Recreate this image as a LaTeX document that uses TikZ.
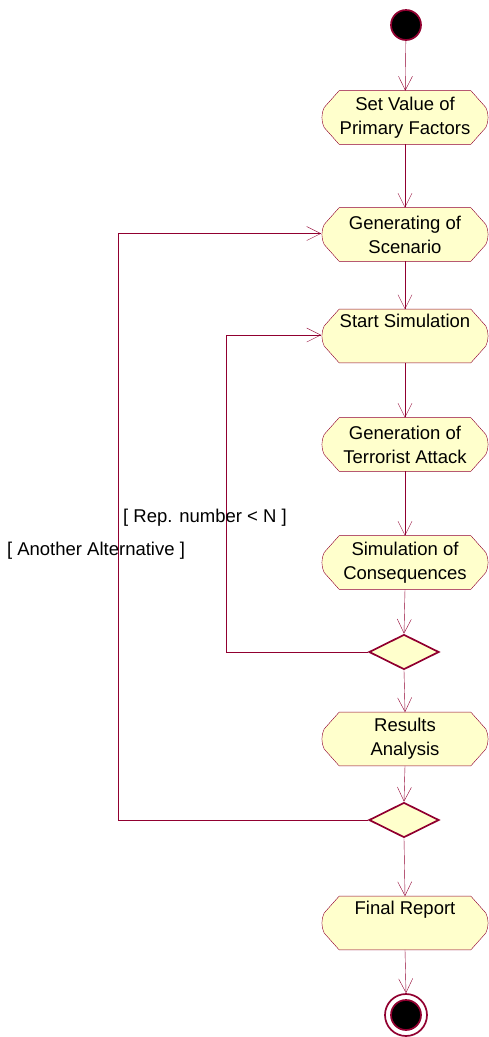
\documentclass[tikz,border=0pt]{standalone}
\usepackage{fontspec}
\setmainfont{Liberation Sans}
\usetikzlibrary{arrows.meta,calc,shapes.geometric}
\definecolor{edge}{RGB}{145,0,48}
\definecolor{pale}{RGB}{255,255,204}
\pgfdeclarelayer{back}
\pgfsetlayers{back,main}

\begin{document}
\begin{tikzpicture}[x=1pt,y=-1pt,line width=1.7pt,
  flow/.style={draw=edge,-{Straight Barb[length=14pt,width=14pt]}},
  act/.style={minimum width=166pt,minimum height=52pt,inner sep=0pt,
    align=center,font=\fontsize{18.5}{24}\selectfont},
  choice/.style={diamond,draw=edge,fill=pale,minimum width=70pt,
    minimum height=35pt,inner sep=0pt},
  guard/.style={font=\fontsize{18.5}{20}\selectfont,inner sep=0pt},
  outline/.style={draw=edge,fill=pale}]

\useasboundingbox (0,0) rectangle (489,1037);

% initial and final states
\node[circle,draw=edge,fill=black,minimum size=30pt,inner sep=0pt] (start) at (406,25) {};
\node[circle,draw=edge,fill=white,minimum size=42pt,inner sep=0pt] (stop) at (406,1015) {};
\node[circle,draw=edge,fill=black,minimum size=30pt,inner sep=0pt] (stopin) at (406,1015) {};

% activities
\node[act] (setv) at (405,117.5) {Set Value of\\Primary Factors};
\node[act] (gens) at (405,234.5) {Generating of\\Scenario};
\node[act] (sims) at (405,336) {Start Simulation\\\strut};
\node[act] (gent) at (405,444.5) {Generation of\\Terrorist Attack};
\node[act] (simc) at (405,562.5) {Simulation of\\Consequences};
\node[act] (resa) at (405,739) {Results\\Analysis};
\node[act] (finr) at (405,923) {Final Report\\\strut};

% decisions
\node[choice] (rep) at (404,652) {};
\node[choice] (alt) at (404,820) {};

% activity outlines, behind the text
\begin{pgfonlayer}{back}
\foreach \n in {setv,gens,sims,gent,simc,resa,finr}{
  \path[outline]
    ($(\n.north west)+(18pt,0)$) -- ($(\n.north east)+(-18pt,0)$)
    -- ($(\n.east)+(-3pt,10pt)$)
    .. controls ($(\n.east)+(0,4pt)$) and ($(\n.east)+(0,-4pt)$) .. ($(\n.east)+(-3pt,-10pt)$)
    -- ($(\n.south east)+(-18pt,0)$) -- ($(\n.south west)+(18pt,0)$)
    -- ($(\n.west)+(3pt,-10pt)$)
    .. controls ($(\n.west)+(0,-4pt)$) and ($(\n.west)+(0,4pt)$) .. ($(\n.west)+(3pt,10pt)$)
    -- cycle;
}
\end{pgfonlayer}

% main flow
\draw[flow] (start) -- (setv);
\draw[flow] (setv) -- (gens);
\draw[flow] (gens) -- (sims);
\draw[flow] (sims) -- (gent);
\draw[flow] (gent) -- (simc);
\draw[flow] (simc.south) -- (rep.north);
\draw[flow] (rep.south) -- (resa.north);
\draw[flow] (resa.south) -- (alt.north);
\draw[flow] (alt.south) -- (finr.north);
\draw[flow] (finr.south) -- (stop.north);

% loops back
\coordinate (innerk) at (226,335);
\coordinate (outerk) at (118,233.5);
\draw[flow] (rep.west) -| (innerk) -- (innerk -| sims.west);
\draw[flow] (alt.west) -| (outerk) -- (outerk -| gens.west);

% guards
\node[guard] (g1) at (205,518) {[ Rep. number < N ]};
\node[guard] (g2) at (96,551) {[ Another Alternative ]};
\end{tikzpicture}
\end{document}
